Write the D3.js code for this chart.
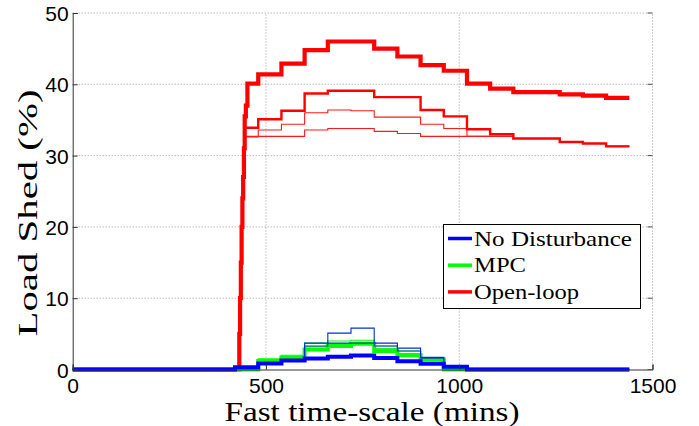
<!DOCTYPE html>
<html>
<head>
<meta charset="utf-8">
<script src="https://cdn.jsdelivr.net/npm/d3@7"></script>
<style>
  body { margin: 0; background: #fff; }
  svg { display: block; }
</style>
</head>
<body>
<div id="chart"></div>
<script>
const W = 699, H = 426;

// time axis breakpoints (mins)
const rampT = [429, 431, 433, 435, 437, 439, 441, 443, 445, 448, 452];
const hourT = [480, 540, 600, 660, 720, 780, 840, 900, 960, 1020, 1080, 1140, 1200, 1260, 1320, 1380, 1440];

// open-loop (red) runs
const redThickRamp = [0, 5, 10, 15, 20, 24, 27, 31, 35.5, 37, 40.1];
const redThick = [41.4, 42.9, 44.8, 46.0, 46.0, 45.0, 43.9, 42.7, 41.9, 40.1, 39.4, 38.9, 38.9, 38.6, 38.4, 38.1, 38.1];
const redMedRamp = [0, 5, 10, 15, 20, 24, 27, 31, 33.9, 33.9, 33.9];
const redMed = [35.1, 36.3, 38.7, 39.1, 39.1, 38.2, 38.2, 36.4, 35.5, 33.7, 33.0, 32.4, 32.4, 31.9, 31.7, 31.3, 31.3];
const redThinARamp = [0, 5, 10, 15, 20, 24, 27, 31, 32.6, 32.6, 32.6];
const redThinA = [33.6, 34.4, 36.0, 36.4, 36.3, 35.4, 35.4, 34.4, 33.8, 32.7, 32.7, 32.4, 32.4, 31.9, 31.7, 31.3, 31.3];
const redThinBRamp = [0, 5, 10, 15, 20, 24, 27, 31, 32.7, 32.7, 32.7];
const redThinB = [32.7, 32.7, 33.6, 33.8, 33.8, 33.4, 33.1, 32.7, 32.7, 32.7, 32.7, 32.4, 32.4, 31.9, 31.7, 31.3, 31.3];

// MPC (green) runs
const greenThick = [1.2, 1.7, 2.8, 3.3, 3.6, 2.6, 2.0, 1.4, 0, 0, 0, 0, 0, 0, 0, 0, 0];
const greenThinA = [1.5, 2.0, 3.7, 4.0, 4.1, 3.3, 2.6, 1.6, 0, 0, 0, 0, 0, 0, 0, 0, 0];
const greenThinB = [1.3, 1.8, 3.2, 3.6, 3.7, 2.9, 2.2, 1.5, 0, 0, 0, 0, 0, 0, 0, 0, 0];

// no disturbance (blue) runs
const blueStart = [0.3, 0.2, 0.2];
const blueThick = [0.85, 1.25, 1.55, 1.8, 1.95, 1.6, 1.15, 0.8, 0.4, 0, 0, 0, 0, 0, 0, 0, 0];
const blueThinA = [0.9, 1.4, 3.7, 5.1, 5.8, 3.7, 3.0, 1.7, 0.5, 0, 0, 0, 0, 0, 0, 0, 0];
const blueThinB = [0.9, 1.3, 3.3, 3.7, 3.7, 3.3, 2.6, 1.6, 0.4, 0, 0, 0, 0, 0, 0, 0, 0];

const xTicks = [0, 500, 1000, 1500];
const yTicks = [0, 10, 20, 30, 40, 50];
const legendNames = ["No Disturbance", "MPC", "Open-loop"];
const legendColors = ["#0000ff", "#00ff00", "#ff0000"];
const legendWidths = [158, 52, 105];

const SERIF = "'Liberation Serif', 'Times New Roman', serif";
const SANS = "'Liberation Sans', Arial, sans-serif";

const margin = {left: 72.7, right: W - 652.5, top: 13, bottom: H - 369.5};

const x = d3.scaleLinear().domain([0, 1500]).range([margin.left, W - margin.right]);
const y = d3.scaleLinear().domain([0, 50]).range([H - margin.bottom, margin.top]);

const svg = d3.select("#chart").append("svg")
  .attr("width", W).attr("height", H);

// grid (dotted)
svg.append("g").selectAll("line").data(xTicks.slice(1)).enter().append("line")
  .attr("x1", d => x(d)).attr("x2", d => x(d))
  .attr("y1", y(0)).attr("y2", y(50))
  .attr("stroke", "#9a9a9a").attr("stroke-width", 1).attr("stroke-dasharray", "1,2");
svg.append("g").selectAll("line").data(yTicks.slice(1)).enter().append("line")
  .attr("x1", x(0)).attr("x2", x(1500))
  .attr("y1", d => y(d)).attr("y2", d => y(d))
  .attr("stroke", "#9a9a9a").attr("stroke-width", 1).attr("stroke-dasharray", "1,2");

// build point lists
function redPts(ramp, hourly) {
  return [[0, 0]].concat(rampT.map((t, i) => [t, ramp[i]]), hourT.map((t, i) => [t, hourly[i]]));
}
function lowPts(start, hourly) {
  const p = [[0, 0]];
  if (start !== null) p.push([420, start]);
  return p.concat(hourT.map((t, i) => [t, hourly[i]]));
}

const series = [
  {pts: redPts(redThinBRamp, redThinB), color: "#ff1a1a", w: 1.1},
  {pts: redPts(redThinARamp, redThinA), color: "#ff1a1a", w: 1.1},
  {pts: redPts(redMedRamp, redMed), color: "#ff0000", w: 2.4},
  {pts: redPts(redThickRamp, redThick), color: "#ff0000", w: 4.2},
  {pts: lowPts(null, greenThinB), color: "#00dd00", w: 1.1},
  {pts: lowPts(null, greenThinA), color: "#00ff00", w: 1.1},
  {pts: lowPts(null, greenThick), color: "#00ff00", w: 4},
  {pts: lowPts(blueStart[2], blueThinB), color: "#1040c0", w: 1.1},
  {pts: lowPts(blueStart[1], blueThinA), color: "#0030d0", w: 1.1},
  {pts: lowPts(blueStart[0], blueThick), color: "#0000ff", w: 4}
];

const line = d3.line().x(d => x(d[0])).y(d => y(d[1])).curve(d3.curveStepAfter);

svg.append("g").selectAll("path").data(series).enter().append("path")
  .attr("d", d => line(d.pts))
  .attr("fill", "none")
  .attr("stroke", d => d.color)
  .attr("stroke-width", d => d.w)
  .attr("stroke-linejoin", "miter");

// axes
const xAxis = d3.axisBottom(x).tickValues(xTicks).tickFormat(d3.format("d")).tickSize(-5).tickPadding(8);
const yAxis = d3.axisLeft(y).tickValues(yTicks).tickFormat(d3.format("d")).tickSize(-5).tickPadding(4);

const gx = svg.append("g").attr("transform", `translate(0,${y(0)})`).call(xAxis);
const gy = svg.append("g").attr("transform", `translate(${x(0)},0)`).call(yAxis);
[gx, gy].forEach(g => {
  g.select(".domain").attr("stroke", "#333");
  g.selectAll(".tick line").attr("stroke", "#333");
  g.selectAll("text").attr("font-family", SANS)
    .attr("font-size", 21).attr("fill", "#000");
});
gx.selectAll(".tick text").attr("dy", "0.72em");
gy.selectAll(".tick text").attr("dy", "0.36em");
// ticks on the right edge
svg.append("g").selectAll("line").data(yTicks).enter().append("line")
  .attr("x1", x(1500)).attr("x2", x(1500) - 5)
  .attr("y1", d => y(d)).attr("y2", d => y(d))
  .attr("stroke", "#555");

// axis titles
svg.append("text")
  .attr("x", 372).attr("y", 421)
  .attr("text-anchor", "middle")
  .attr("font-family", SERIF)
  .attr("font-size", 28)
  .attr("textLength", 295).attr("lengthAdjust", "spacingAndGlyphs")
  .text("Fast time-scale (mins)");

svg.append("text")
  .attr("transform", "translate(37,213) rotate(-90)")
  .attr("text-anchor", "middle")
  .attr("font-family", SERIF)
  .attr("font-size", 28)
  .attr("textLength", 247).attr("lengthAdjust", "spacingAndGlyphs")
  .text("Load Shed (%)");

// legend
const lg = svg.append("g");
lg.append("rect")
  .attr("x", 443.5).attr("y", 224.5).attr("width", 197).attr("height", 84)
  .attr("fill", "#fff").attr("stroke", "#000").attr("stroke-width", 1);
const items = lg.selectAll("g.item").data(legendNames).enter().append("g")
  .attr("transform", (d, i) => `translate(0,${238.5 + i * 26.7})`);
items.append("line")
  .attr("x1", 448).attr("x2", 472).attr("y1", 0).attr("y2", 0)
  .attr("stroke", (d, i) => legendColors[i]).attr("stroke-width", 3.5);
items.append("text")
  .attr("x", 474).attr("y", 7)
  .attr("font-family", SERIF)
  .attr("font-size", 21)
  .attr("textLength", (d, i) => legendWidths[i]).attr("lengthAdjust", "spacingAndGlyphs")
  .text(d => d);
</script>
</body>
</html>
